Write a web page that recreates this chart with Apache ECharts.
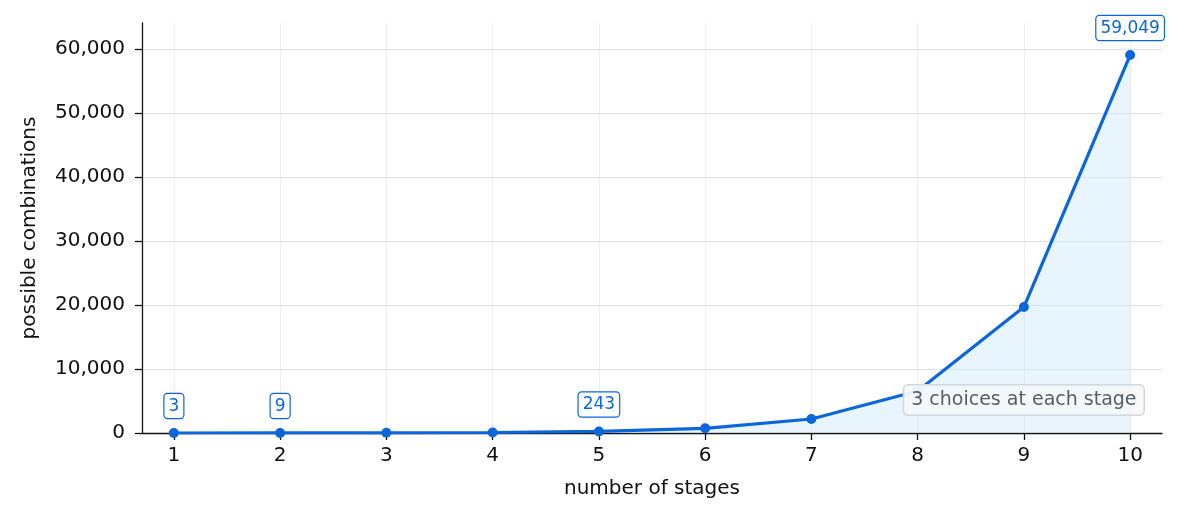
<!DOCTYPE html>
<html>
<head>
<meta charset="utf-8">
<script src="https://cdn.jsdelivr.net/npm/echarts@6/dist/echarts.min.js"></script>
<style>
html,body{margin:0;padding:0;background:#fff;}
#chart{width:1184px;height:520px;}
</style>
</head>
<body>
<div id="chart"></div>
<script>
const stages = [1, 2, 3, 4, 5, 6, 7, 8, 9, 10];
const combinations = [3, 9, 27, 81, 243, 729, 2187, 6561, 19683, 59049];
const labeledStages = [1, 2, 5, 10];
const yTicks = [0, 10000, 20000, 30000, 40000, 50000, 60000];
const annotationText = '3 choices at each stage';
const annotationAt = [9.0, 5150];

const FONT = 'DejaVu Sans';
const BLUE = '#0b66da';

const chart = echarts.init(document.getElementById('chart'), null, {renderer: 'canvas'});

const fmt = v => v.toLocaleString('en-US');

const lineData = stages.map((s, i) => ({
  value: [s, combinations[i]],
  label: {show: labeledStages.includes(s)}
}));

const option = {
  animation: false,
  backgroundColor: '#ffffff',
  grid: {left: 142, right: 22, top: 23, bottom: 87, containLabel: false},
  xAxis: {
    type: 'value',
    min: 0.7,
    max: 10.3,
    name: 'number of stages',
    nameLocation: 'middle',
    nameGap: 46,
    nameTextStyle: {fontFamily: FONT, fontSize: 20, color: '#111'},
    axisLine: {show: true, lineStyle: {color: '#111', width: 1.3}},
    axisTick: {show: true, length: 7, lineStyle: {color: '#111', width: 1.3}, customValues: stages},
    axisLabel: {fontFamily: FONT, fontSize: 20, color: '#111', margin: 13, customValues: stages,
      formatter: v => String(v)},
    splitLine: {show: false}
  },
  yAxis: {
    type: 'value',
    min: 0,
    max: 64060,
    interval: 10000,
    name: 'possible combinations',
    nameLocation: 'middle',
    nameGap: 102,
    nameRotate: 90,
    nameTextStyle: {fontFamily: FONT, fontSize: 20, color: '#111'},
    axisLine: {show: true, lineStyle: {color: '#111', width: 1.3}},
    axisTick: {show: true, length: 7, lineStyle: {color: '#111', width: 1.3}, customValues: yTicks},
    axisLabel: {fontFamily: FONT, fontSize: 20, color: '#111', margin: 17, customValues: yTicks,
      formatter: v => fmt(v)},
    splitLine: {show: false}
  },
  series: [
    {
      type: 'line',
      data: [],
      silent: true,
      z: 0,
      markLine: {
        silent: true,
        z: 0,
        symbol: 'none',
        label: {show: false},
        animation: false,
        data: stages.map(s => ({xAxis: s, lineStyle: {color: '#eceef1', width: 1, type: 'solid'}}))
          .concat(yTicks.filter(v => v > 0).map(v => ({yAxis: v, lineStyle: {color: '#dfe2e6', width: 1, type: 'solid'}})))
      }
    },
    {
      type: 'line',
      data: lineData,
      z: 3,
      symbol: 'circle',
      symbolSize: 10,
      showSymbol: true,
      itemStyle: {color: BLUE},
      lineStyle: {color: BLUE, width: 3.2},
      areaStyle: {color: 'rgba(200,232,252,0.42)', opacity: 1, origin: 'start'},
      label: {
        show: false,
        position: 'top',
        distance: 10,
        fontFamily: FONT,
        fontSize: 17,
        color: BLUE,
        backgroundColor: '#ffffff',
        borderColor: BLUE,
        borderWidth: 1.2,
        borderRadius: 3,
        padding: [4, 4, 3, 4],
        formatter: p => fmt(p.value[1])
      },
      markPoint: {
        symbol: 'circle',
        symbolSize: 0,
        silent: true,
        z: 6,
        data: [{
          coord: annotationAt,
          label: {
            show: true,
            position: 'inside',
            formatter: annotationText,
            fontFamily: FONT,
            fontSize: 19,
            color: '#555d68',
            backgroundColor: 'rgba(246,248,250,0.95)',
            borderColor: '#d0d7de',
            borderWidth: 1.5,
            borderRadius: 4,
            padding: [6, 7, 4, 7]
          }
        }]
      }
    }
  ]
};
chart.setOption(option);
</script>
</body>
</html>
